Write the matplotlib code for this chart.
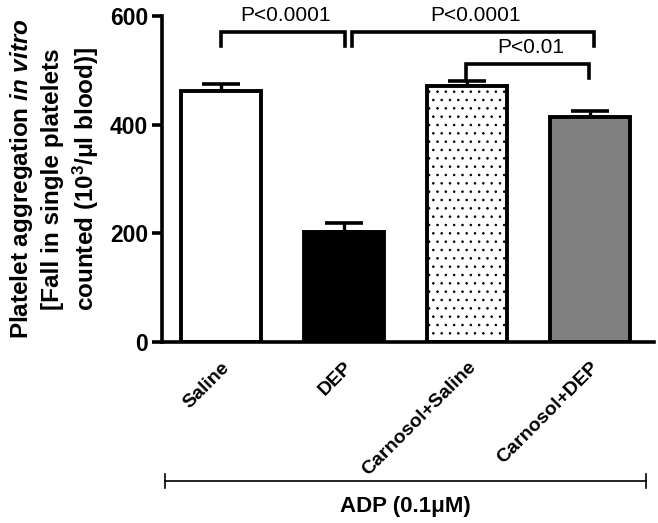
import matplotlib.pyplot as plt
import matplotlib.transforms as mtransforms
import numpy as np

plt.rcParams['font.family'] = ['Liberation Sans', 'DejaVu Sans']
plt.rcParams['mathtext.fontset'] = 'custom'
plt.rcParams['mathtext.rm'] = 'Liberation Sans'
plt.rcParams['mathtext.bf'] = 'Liberation Sans:bold'
plt.rcParams['mathtext.it'] = 'Liberation Sans:italic'
plt.rcParams['mathtext.bfit'] = 'Liberation Sans:italic:bold'
plt.rcParams['hatch.linewidth'] = 0.6

# Data
groups = ['Saline', 'DEP', 'Carnosol+Saline', 'Carnosol+DEP']
means = [462, 202, 471, 414]
sem = [13, 17, 9, 11]
fills = ['white', 'black', 'white', '#808080']
hatches = ['', '', '..', '']

# significance brackets: (x1, x2, y, label)
brackets = [(0.0, 1.01, 571, 'P<0.0001'),
            (1.065, 3.03, 571, 'P<0.0001'),
            (1.99, 2.99, 512, 'P<0.01')]

fig = plt.figure(figsize=(6.58, 5.23), dpi=100)
ax = fig.add_axes([0.246, 0.346, 0.748, 0.623])

x = np.arange(len(groups))
ax.bar(x, means, width=0.65, color=fills, edgecolor='black', linewidth=2.8,
       hatch=hatches, zorder=2)
ax.errorbar(x, means, yerr=[np.zeros(len(sem)), sem], fmt='none', ecolor='black',
            elinewidth=2.4, capsize=14, capthick=2.6, zorder=1)

for x1, x2, y, lab in brackets:
    ax.plot([x1, x1, x2, x2], [y - 26, y, y, y - 26], color='black', lw=2.6,
            clip_on=False, solid_joinstyle='miter')
    ax.text((x1 + x2) / 2 + (0.03 if lab == 'P<0.01' else 0.02), y + 12, lab,
            ha='center', va='bottom', fontsize=15)

ax.set_xlim(-0.48, 3.52)
ax.set_ylim(0, 600)
ax.set_yticks([0, 200, 400, 600])
ax.tick_params(axis='y', labelsize=16.5, width=2.6, length=7, pad=3)
for t in ax.get_yticklabels():
    t.set_fontweight('bold')
ax.set_xticks(x)
ax.set_xticklabels(groups, rotation=45, ha='right', rotation_mode='anchor',
                   fontsize=14, fontweight='bold')
ax.tick_params(axis='x', length=0, pad=12)

for s in ['top', 'right']:
    ax.spines[s].set_visible(False)
for s in ['left', 'bottom']:
    ax.spines[s].set_linewidth(2.6)

ax.set_ylabel('Platelet aggregation $\\bfit{in\\ vitro}$\n[Fall in single platelets\n'
              'counted (10$^{\\mathbf{3}}$/\u03bcl blood)]',
              fontsize=17.5, fontweight='bold', linespacing=1.3)
ax.yaxis.set_label_coords(-0.124, 0.5)

# ADP group line under the categories
trans = mtransforms.blended_transform_factory(ax.transData, ax.transAxes)
ax.plot([-0.455, 3.455], [-0.426, -0.426], color='black', lw=1.2,
        transform=trans, clip_on=False)
for xe in [-0.455, 3.455]:
    ax.plot([xe, xe], [-0.405, -0.447], color='black', lw=1.2,
            transform=trans, clip_on=False)
ax.text(1.5, -0.506, 'ADP (0.1\u03bcM)', transform=trans, ha='center', va='center',
        fontsize=16, fontweight='bold')

fig.savefig('out.png', dpi=100)
